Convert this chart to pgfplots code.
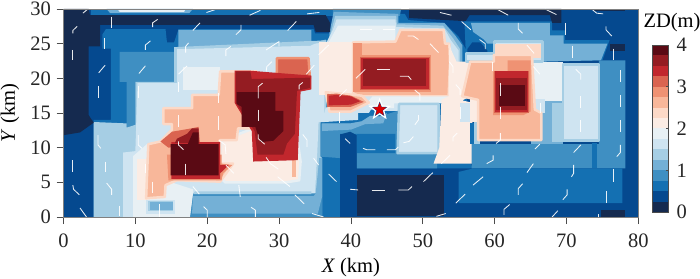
\documentclass[border=0pt]{standalone}
\usepackage{fontspec}
\setmainfont{Liberation Serif}
\usepackage{pgfplots}
\pgfplotsset{compat=1.18}
\definecolor{L0}{HTML}{152A4F}
\definecolor{L1}{HTML}{05498F}
\definecolor{L2}{HTML}{1470B2}
\definecolor{L3}{HTML}{3F8FC2}
\definecolor{L4}{HTML}{74B0D6}
\definecolor{L5}{HTML}{A6CEE4}
\definecolor{L6}{HTML}{CFE4F1}
\definecolor{L7}{HTML}{E8F0F4}
\definecolor{L8}{HTML}{FBECE4}
\definecolor{L9}{HTML}{FCD9C7}
\definecolor{L10}{HTML}{F8B79A}
\definecolor{L11}{HTML}{EF9273}
\definecolor{L12}{HTML}{DA6450}
\definecolor{L13}{HTML}{C1272D}
\definecolor{L14}{HTML}{941C22}
\definecolor{L15}{HTML}{5A0A14}
\pgfdeclareplotmark{fstar}{%
  \pgfpathmoveto{\pgfpointpolar{90}{\pgfplotmarksize}}%
  \pgfpathlineto{\pgfpointpolar{126}{0.42\pgfplotmarksize}}%
  \pgfpathlineto{\pgfpointpolar{162}{\pgfplotmarksize}}%
  \pgfpathlineto{\pgfpointpolar{198}{0.42\pgfplotmarksize}}%
  \pgfpathlineto{\pgfpointpolar{234}{\pgfplotmarksize}}%
  \pgfpathlineto{\pgfpointpolar{270}{0.42\pgfplotmarksize}}%
  \pgfpathlineto{\pgfpointpolar{306}{\pgfplotmarksize}}%
  \pgfpathlineto{\pgfpointpolar{342}{0.42\pgfplotmarksize}}%
  \pgfpathlineto{\pgfpointpolar{18}{\pgfplotmarksize}}%
  \pgfpathlineto{\pgfpointpolar{54}{0.42\pgfplotmarksize}}%
  \pgfpathclose\pgfusepathqfill}
\pgfplotsset{
  rim/.style={draw=#1,line width=2.5pt,line join=round},
  w/.style={white,line width=0.85pt,line join=round,no marks,opacity=0.9},
  every tick label/.append style={font=\fontsize{20.5}{20.5}\selectfont,text=black!85},
}
\begin{document}
\begin{tikzpicture}[x=1pt,y=1pt]
\path[use as bounding box] (0,0) rectangle (700,278);
\begin{axis}[
  at={(63.5pt,61pt)},anchor=south west,scale only axis,width=574.8pt,height=208pt,
  xmin=0,xmax=80,ymin=0,ymax=30,
  xtick={0,10,...,80},ytick={0,5,...,30},
  xtick pos=bottom,ytick pos=left,tick align=outside,major tick length=7pt,
  axis line style={black!50,line width=0.7pt},tick style={black!70,line width=0.7pt},
  /pgf/number format/assume math mode=true,
  xticklabel style={yshift=-6pt},
  yticklabel style={xshift=-2pt},
  xlabel={\fontsize{20.5}{20.5}\selectfont\textit{X} (km)},
  ylabel={\fontsize{20.5}{20.5}\selectfont\textit{Y} (km)},
  xlabel style={at={(axis description cs:0.5,-0.245)},anchor=center},
  ylabel style={at={(axis description cs:-0.093,0.5)},anchor=center},
  axis on top,clip=true,
  every axis plot/.append style={forget plot},
]
% background
\addplot[fill=L1,draw=none] coordinates {(0,0)(80,0)(80,30)(0,30)} --cycle;
% L2 big
\addplot[fill=L2,draw=none] coordinates {(4.2,0)(4.2,14)(6.6,14)(6.6,24.3)(5.4,24.3)(5.4,26.3)(5.9,27.1)(14.2,27.1)(14.4,25.2)(15.4,25.2)(16,27.1)(34.8,27.1)(35,26.5)(37.1,26.5)(38,29.3)(47.5,29.3)(48,28.4)(53,28)(55,26)(56,24.2)(56,22)(56.5,8)(57,7)(40.8,7)(40.8,11.8)(38.5,12)(38.5,0)} --cycle;
% top strip
\addplot[fill=L2,draw=none] coordinates {(3.8,30)(38,30)(38,29)(3.8,29)} --cycle;
\addplot[fill=L4,draw=none] coordinates {(6,30)(18,30)(17.5,29.4)(6.5,29.4)} --cycle;
\addplot[fill=L7,draw=none] coordinates {(7.5,30)(17,30)(16.8,29.6)(7.8,29.6)} --cycle;
\addplot[fill=L3,draw=none] coordinates {(37.5,30)(47,30)(46.8,29)(37.5,29)} --cycle;
% left L3
\addplot[fill=L3,draw=none] coordinates {(7.8,23.8)(15.4,23.8)(15.4,19.5)(10,19.5)(10,13.3)(8.8,12.9)(8.8,19.5)(7.8,19.5)} --cycle;
% L4 upper band
\addplot[fill=L4,draw=none] coordinates {(16,27)(34.5,27)(34.5,25)(36.5,25.6)(36.5,20)(16,20)} --cycle;
% L5 big
\addplot[fill=L5,draw=none] coordinates {(4.2,0)(4.2,13.7)(8.8,13.5)(8.8,12.9)(10,13.3)(10,19.5)(15.4,19.5)(15.4,24.5)(34.6,25.4)(35,25.4)(36.6,25.5)(36.6,14)(35.8,13.8)(35.8,8.7)(36,8.5)(36,0)} --cycle;
% L6 big
\addplot[fill=L6,draw=none] coordinates {(8.3,0)(8.3,9.3)(10,9.5)(10.3,19.3)(15.8,19.3)(15.8,24.2)(34.4,24.7)(35,25)(36.3,25.2)(36.3,15)(41,15)(41,14)(36.3,13.7)(35.5,13.7)(35.3,8.8)(35,3.4)(34,3.2)(18,3.2)(17.6,0)} --cycle;
% bottom L4 / L3
\addplot[fill=L3,draw=none] coordinates {(17.6,0)(36,0)(36,8.5)(35.6,8.5)(35.4,3.4)(18,3.4)} --cycle;
\addplot[fill=L4,draw=none] coordinates {(17.9,0.5)(18,3)(34.8,3)(35.1,3.4)(35.6,8.5)(36,8.5)(36,3)(35.4,0.5)} --cycle;
\addplot[fill=L5,draw=none] coordinates {(18,3.3)(34.5,3.3)(34.5,3.7)(18.3,3.7)} --cycle;
% L7 patches
\addplot[fill=L7,draw=none] coordinates {(16.7,21.7)(21.8,21.7)(21.8,18.3)(16.7,18.3)} --cycle;
\addplot[fill=L7,draw=none] coordinates {(9.7,0)(9.7,8.8)(11.6,10.5)(15,5)(18,4)(18,3.2)(17.6,0)} --cycle;
\addplot[fill=L8,draw=none] coordinates {(10.2,2.4)(10.2,8.4)(11.8,8.4)(11.8,2.4)} --cycle;
\addplot[fill=L6,draw=none] coordinates {(11.5,0.5)(11.5,2.5)(15.5,2.5)(15.5,0.5)} --cycle;
\addplot[fill=L5,draw=none] coordinates {(11.8,0.8)(11.8,2.3)(15.3,2.3)(15.3,0.8)} --cycle;
\addplot[fill=L4,draw=none] coordinates {(12,1)(12,2.1)(15.2,2.1)(15.2,1)} --cycle;
% pale pink centre left
\addplot[fill=L8,rim=L7] coordinates {(22,11)(27,13)(32.3,13)(33,8)(32.8,5.3)(31,5)(22.5,5)(21.5,6)} --cycle;
\addplot[fill=L10,draw=none] coordinates {(31.8,8.5)(32.3,8.5)(32.3,5.8)(31.8,5.8)} --cycle;
% salmon left
\addplot[fill=L10,rim=L9] coordinates {(13.9,15.7)(13.9,13.4)(15.1,13.4)(15.1,12.6)(13.5,10.9)(11.8,10.5)(11.5,2.7)(14.1,2.9)(14.2,4.6)(15.8,5.3)(21.8,5.1)(23.6,7.7)(21.8,7.7)(21.8,11.1)(24.1,11.1)(24.3,12.8)(26.9,12.8)(26.9,21)(21.8,21)(21.6,17.6)(17.9,17.6)(17.9,15.7)} --cycle;
% lower-left dark group
\addplot[fill=L11,draw=none] coordinates {(14.6,5.3)(22,5.3)(22.2,6.3)(23.5,7.5)(22,7.7)(22,9)(14.4,9)} --cycle;
\addplot[fill=L12,draw=none] coordinates {(13.5,10.9)(15.1,12.3)(17.9,12.8)(18.8,13)(19,10.6)(14.6,10)} --cycle;
\addplot[fill=L13,draw=none] coordinates {(15,5.5)(21.8,5.5)(21.8,6.3)(23,7.5)(21.8,7.5)(21.8,10.8)(15,10.8)} --cycle;
\addplot[fill=L14,draw=none] coordinates {(15.5,10.7)(15.8,11.3)(17.2,12)(17.9,12.8)(18.8,12.8)(18.8,10.7)} --cycle;
\addplot[fill=L15,draw=none] coordinates {(14.9,6)(21.6,6)(21.6,10.5)(18.8,10.5)(18.8,12.2)(18,12.2)(17.3,10.5)(14.9,10.5)} --cycle;
% upper dark group
\addplot[fill=L12,rim=L11] coordinates {(29.7,22.9)(34.1,22.9)(34.3,20)(29.5,20)(29.7,21)} --cycle;
\addplot[fill=L13,draw=none] coordinates {(23.8,21.1)(26,21.1)(29.5,20.8)(34.5,20.4)(34.5,18.4)(33,18.1)(32.6,8.2)(26.4,8)(26.2,12.4)(23.8,16.5)} --cycle;
\addplot[fill=L14,draw=none] coordinates {(24,21)(26,21)(26.2,19.9)(34.3,20.1)(34.3,18.6)(32.5,18.2)(32.2,12)(31.1,10.6)(30.6,9)(27,9)(26.6,12.4)(24,16.5)} --cycle;
\addplot[fill=L15,draw=none] coordinates {(24.1,18)(29.5,18)(29.5,15.3)(30.6,15.3)(30.6,12.4)(29.2,11)(27.4,10.8)(26.7,13)(24.8,13)(24.8,15.9)(24.1,16.3)} --cycle;
% centre top gradient
\addplot[fill=L4,draw=none] coordinates {(37.6,29.6)(46.6,29.3)(46.6,28)(53,28)(54.5,26.2)(55.5,24.8)(55.5,22)(46,22)(46,25)(37,25)(37,26.5)} --cycle;
\addplot[fill=L5,draw=none] coordinates {(37.8,29)(46.3,29)(46.4,27.8)(52.8,27.6)(54.2,25.8)(55.2,24.2)(55.2,22)(46,22)(46,25)(37,25)(37.2,26.5)} --cycle;
\addplot[fill=L6,draw=none] coordinates {(38,28.5)(46.2,28.5)(46.3,27.4)(53,27.2)(53.9,25.5)(55,24)(55,22)(46,22)(46,25)(36.5,25)(37.5,27)} --cycle;
\addplot[fill=L7,draw=none] coordinates {(38.2,27.6)(46.2,27.6)(46.2,25)(36.8,25)(37.6,26.5)} --cycle;
% centre pale and salmon
\addplot[fill=L8,draw=none] coordinates {(35.5,25.3)(40.3,25.3)(40.3,17.6)(35.5,17.6)} --cycle;
\addplot[fill=L10,rim=L9] coordinates {(40.3,25.2)(46.2,25.3)(46.9,27)(52.9,27)(53.1,25)(53.7,25)(53.8,22.2)(53.6,17.4)(41.3,17.4)(40.3,17.8)} --cycle;
\addplot[fill=L11,draw=none] coordinates {(40.3,25.1)(41.5,25.1)(41.5,18)(40.3,18)} --cycle;
\addplot[fill=L11,draw=none] coordinates {(41,18)(51.2,18)(51.2,23.3)(41,23.3)} --cycle;
\addplot[fill=L12,draw=none] coordinates {(41.2,18.3)(51,18.3)(51,23.1)(41.2,23.1)} --cycle;
\addplot[fill=L13,draw=none] coordinates {(41.4,18.5)(50.8,18.5)(50.8,22.9)(41.4,22.9)} --cycle;
\addplot[fill=L14,draw=none] coordinates {(41.7,18.9)(50.4,18.9)(50.4,22.8)(41.7,22.8)} --cycle;
% centre lower blues
\addplot[fill=L3,draw=none] coordinates {(35.8,13.5)(39.9,13.5)(41.5,13.8)(42.7,14.6)(44,14.5)(46.5,15.3)(46.5,9.5)(52,9)(52,7)(40.8,7)(40.8,12)(38.5,12)(38.5,8.5)(35.8,8.7)} --cycle;
\addplot[fill=L4,draw=none] coordinates {(36,13.5)(39.9,13.5)(41.5,13.8)(42.7,14.6)(44,14.5)(45,15)(44.5,13.5)(42,13.4)(40,12.6)(36,12.4)} --cycle;
\addplot[fill=L2,draw=none] coordinates {(38.5,12)(40.1,12)(46.2,12)(46.2,9.2)(40.8,9.2)(40.8,12)} --cycle;
\addplot[fill=L1,draw=none] coordinates {(38.5,0)(38.5,11.9)(39.9,12.3)(40.8,11.8)(40.8,0)} --cycle;
\addplot[fill=L0,rim=L1] coordinates {(40.7,0)(40.7,6.3)(53.2,6.3)(53.2,0)} --cycle;
% pale patch under the salmon, round the star
\addplot[fill=L6,draw=none] coordinates {(36.3,15)(42.5,15)(42.8,15.5)(44.7,15.3)(46.5,15.3)(47,16.4)(47,17.4)(41.5,17.4)(41,15.8)(36.5,15.8)} --cycle;
\addplot[fill=L7,draw=none] coordinates {(42.2,16.4)(43,17.4)(53.7,17.4)(53.7,16.4)(46,16.4)(46,15.7)(43,15.7)} --cycle;
\addplot[fill=L6,rim=L5] coordinates {(46.7,16.3)(52.2,16.3)(52.2,9.2)(46.5,9.2)} --cycle;
% red bar left
\addplot[fill=L10,rim=L9] coordinates {(36.5,18)(41.5,17.5)(42.5,16.5)(40,15.2)(37,15.2)} --cycle;
\addplot[fill=L12,draw=none] coordinates {(36.7,17.7)(38,17.8)(40,17.5)(41.8,16.6)(40,15.9)(36.7,15.9)} --cycle;
\addplot[fill=L13,draw=none] coordinates {(36.9,17.5)(38,17.6)(40,17.4)(41.3,16.7)(40,16.2)(36.9,16.1)} --cycle;
% right pale pink column
\addplot[fill=L8,draw=none] coordinates {(53.7,25)(54,24)(54.7,22.4)(56.6,22.4)(56.6,17.4)(55.5,16.8)(56.9,16.5)(56.9,7.7)(51.5,7.7)(52.3,10)(52.6,16.9)(53.6,17.4)} --cycle;
\addplot[fill=L6,draw=none] coordinates {(55.2,16.4)(56.9,16.4)(56.9,13.7)(55.2,13.7)} --cycle;
\addplot[fill=L8,draw=none] coordinates {(56.6,17.4)(57.9,17.4)(57.9,13.7)(56.6,13.7)} --cycle;
\addplot[fill=L5,draw=none] coordinates {(57.1,13.7)(57.9,13.7)(57.9,10.6)(57.1,10.6)} --cycle;
% upper right L2,L4
\addplot[fill=L2,draw=none] coordinates {(55.8,28.2)(68,28.2)(68,26.9)(69.8,26.9)(69.8,25.5)(76,25.5)(75,22.6)(66,22.4)(56,23.5)} --cycle;
\addplot[fill=L4,draw=none] coordinates {(56.7,28)(67.7,28)(67.7,26.2)(69.6,26.2)(69.6,25)(75.7,25)(74.8,22.6)(66,22.4)(66,25)(59,25)(58.5,25.6)(57,26.7)} --cycle;
\addplot[fill=L1,draw=none] coordinates {(56.2,24.2)(56.9,25.2)(58,25.2)(59,24)(59,23.6)(56.2,23.6)} --cycle;
% right L3 col and band
\addplot[fill=L3,draw=none] coordinates {(74.5,22.6)(78.2,22.6)(78.2,7)(56.8,7)(56.8,10.5)(74.5,10.5)} --cycle;
\addplot[fill=L2,draw=none] coordinates {(73.5,7)(73.5,10.7)(74.3,10.7)(74.3,7)} --cycle;
\addplot[fill=L2,draw=none] coordinates {(56.6,10.5)(56.6,13.5)(57.1,13.5)(57.1,10.5)} --cycle;
\addplot[fill=L2,draw=none] coordinates {(55,2)(55,6.5)(57,7)(77.8,7)(77.8,2)} --cycle;
% right blues under salmon
\addplot[fill=L4,draw=none] coordinates {(65,10.5)(69.5,10.5)(69.5,17)(65,17)} --cycle;
\addplot[fill=L5,draw=none] coordinates {(68,10.8)(69.5,10.8)(69.5,16.5)(68,16.5)} --cycle;
\addplot[fill=L7,draw=none] coordinates {(65,16.7)(69.5,16.7)(69.5,22.4)(65,22.4)} --cycle;
\addplot[fill=L6,rim=L5] coordinates {(69.5,22)(74.5,22)(74.5,11)(69.5,11)} --cycle;
\addplot[fill=L6,draw=none] coordinates {(65,17)(67,17)(67,15)(65,15)} --cycle;
% right salmon
\addplot[fill=L6,rim=L5] coordinates {(56,23.6)(60,23.6)(60,25.3)(66.7,25.3)(66.7,22.4)(56,22.4)} --cycle;
\addplot[fill=L9,draw=none] coordinates {(60,25)(66.5,25)(66.5,23)(60,23)} --cycle;
\addplot[fill=L10,rim=L9] coordinates {(56.6,22.4)(59.9,22.4)(59.9,23.4)(65.2,23.4)(65.6,15.5)(66.5,15)(66.5,11.1)(57.7,11.1)(57.7,16.9)(55.5,17.4)} --cycle;
\addplot[fill=L11,draw=none] coordinates {(61.8,22.6)(65,22.6)(65,15.2)(64,14.7)(59.8,14.7)(59.8,21)(61.8,21)} --cycle;
\addplot[fill=L12,draw=none] coordinates {(59.9,21)(64.8,21)(64.8,15)(59.9,15)} --cycle;
\addplot[fill=L13,draw=none] coordinates {(60,21)(64.6,21)(64.6,15.2)(60,15.2)} --cycle;
\addplot[fill=L14,draw=none] coordinates {(60.2,20)(64.5,20)(64.5,15.5)(60.2,15.5)} --cycle;
\addplot[fill=L15,draw=none] coordinates {(60.6,19)(64.3,19)(64.3,16)(60.6,16)} --cycle;
% navy
\addplot[fill=L0,draw=none] coordinates {(0,30)(3.5,30)(3.7,29.1)(36.5,29.1)(37.1,28)(37.1,26.7)(35.1,26.7)(34.8,27.7)(5.1,27.7)(5.1,24.6)(3.5,24.6)(3.5,14.7)(4.2,13.6)(2.3,12.2)(0,11.8)} --cycle;
\addplot[fill=L0,draw=none] coordinates {(48.1,30)(68.5,30)(69.3,30)(69.3,28)(68,28)(67.7,29.1)(56.5,29.1)(56,28.3)(55,28.3)(48.1,28.7)} --cycle;
\addplot[fill=L0,draw=none] coordinates {(73.8,30)(78.2,30)(78.2,29.7)(73.8,29.7)} --cycle;
\addplot[fill=L0,draw=none] coordinates {(76,25)(78.2,25)(78.2,23.9)(76,23.9)} --cycle;
\addplot[fill=L0,draw=none] coordinates {(74.8,0)(78.2,0)(78.2,1)(74.8,1)} --cycle;
% wind lines
\addplot[w] coordinates {(2.7,29.4)(3.4,30)};
\addplot[w] coordinates {(6.7,28.9)(6.7,27.2)};
\addplot[w] coordinates {(12.4,27.4)(12.4,28)(13.1,28.5)};
\addplot[w] coordinates {(18,26.9)(19,28)};
\addplot[w] coordinates {(24,26.3)(24.7,27)(24.7,27.7)};
\addplot[w] coordinates {(31.2,26.9)(32.4,28.2)};
\addplot[w] coordinates {(19.9,29.5)(21.1,29.9)};
\addplot[w] coordinates {(25.9,29.1)(27.4,29.8)};
\addplot[w] coordinates {(33.9,29.3)(35.6,29.5)};
\addplot[w] coordinates {(1.3,26.5)(1.3,26.9)(1.9,27.5)};
\addplot[w] coordinates {(1.3,24.1)(1.3,22.6)};
\addplot[w] coordinates {(5.7,25.8)(5.7,24.2)};
\addplot[w] coordinates {(11.4,24.1)(11.4,24.8)(12.1,25.4)};
\addplot[w] coordinates {(17,23.7)(17,24.6)(17.4,25.1)};
\addplot[w] coordinates {(22.6,23.2)(22.6,24.1)(23.3,24.6)};
\addplot[w] coordinates {(28.2,24.1)(30,25.3)(30,24.6)};
\addplot[w] coordinates {(35.5,23.4)(36.9,24.8)};
\addplot[w] coordinates {(4.9,20.8)(5.8,21.9)};
\addplot[w] coordinates {(10.5,20.7)(11.4,21.8)};
\addplot[w] coordinates {(16,20.6)(17.2,21.8)};
\addplot[w] coordinates {(28.2,21)(28.3,21.7)(29,22.4)};
\addplot[w] coordinates {(33.8,20.6)(34.9,21.9)};
\addplot[w] coordinates {(4.8,18.9)(4.8,17.1)};
\addplot[w] coordinates {(10.4,18.9)(10.4,17.1)};
\addplot[w] coordinates {(16,19.5)(16,18.1)};
\addplot[w] coordinates {(21.6,17.9)(21.6,16.4)};
\addplot[w] coordinates {(27.1,17.1)(27.1,18.8)(27.7,19.3)};
\addplot[w] coordinates {(32.8,18.4)(32.8,19)(33.3,19.4)};
\addplot[w] coordinates {(38.4,17.4)(39.4,18.4)};
\addplot[w] coordinates {(16,14.7)(16,13)};
\addplot[w] coordinates {(21.6,14.5)(21.6,12.5)};
\addplot[w] coordinates {(27.1,15.5)(27.1,13.8)};
\addplot[w] coordinates {(38.4,15.2)(38.4,13.6)};
\addplot[w] coordinates {(4.8,11.8)(4.8,10.4)(5.2,9.9)};
\addplot[w] coordinates {(10.4,11.8)(10.4,10.4)(10.9,9.9)};
\addplot[w] coordinates {(16,10.9)(16,10.4)(16.7,9.7)};
\addplot[w] coordinates {(21.6,11.1)(22.5,10.4)(22.6,9.1)};
\addplot[w] coordinates {(27.1,11.9)(27.1,11.3)(28,10.5)};
\addplot[w] coordinates {(33.3,11.9)(33.9,11.1)(33.9,10.1)};
\addplot[w] coordinates {(39.2,11.3)(39.9,10.6)};
\addplot[w] coordinates {(1.3,8.2)(1.3,6.5)};
\addplot[w] coordinates {(5.8,8)(5.8,6.5)};
\addplot[w] coordinates {(11.4,7.7)(11.4,6.3)};
\addplot[w] coordinates {(17,7.7)(17,6.1)};
\addplot[w] coordinates {(22.6,7.5)(23.7,6.3)};
\addplot[w] coordinates {(28.2,8.6)(28.8,7.7)(29.9,6.9)};
\addplot[w] coordinates {(34.8,8.5)(35.5,7.5)};
\addplot[w] coordinates {(36.9,6.2)(38,5.1)};
\addplot[w] coordinates {(1.3,4.6)(1.4,4)(2.2,3.2)};
\addplot[w] coordinates {(6,4.9)(6.7,4)(6.7,3.2)};
\addplot[w] coordinates {(12.4,5.1)(12.4,3.4)};
\addplot[w] coordinates {(18,4.4)(18.9,3.3)};
\addplot[w] coordinates {(24.4,4.6)(24.6,2.9)};
\addplot[w] coordinates {(29.8,5.8)(31.5,4.4)};
\addplot[w] coordinates {(32.2,3.2)(33.5,1.9)};
\addplot[w] coordinates {(2.3,1.3)(3.2,0)};
\addplot[w] coordinates {(7.8,1.6)(7.8,0.1)};
\addplot[w] coordinates {(13.4,1.9)(13.4,0)};
\addplot[w] coordinates {(19.5,1.5)(20,1)(20,0)};
\addplot[w] coordinates {(26.1,1.4)(26.7,1)(26.7,0)};
\addplot[w] coordinates {(34.6,0.5)(36.2,0)};
\addplot[w] coordinates {(52.4,29.5)(54,29.1)};
\addplot[w] coordinates {(60.3,30)(61.9,29.1)};
\addplot[w] coordinates {(67,30)(68.6,29.2)};
\addplot[w] coordinates {(73.5,30)(74.2,29.4)(75.1,29.3)};
\addplot[w] coordinates {(55.4,28.2)(56.7,27)};
\addplot[w] coordinates {(63.3,28)(63.3,27.1)(63.9,26.5)};
\addplot[w] coordinates {(69.9,28)(69.9,26.2)};
\addplot[w] coordinates {(75.5,27.5)(75.5,27)(76.3,26.1)};
\addplot[w] coordinates {(41.3,27.1)(42.9,27.1)};
\addplot[w] coordinates {(44.5,27.1)(46.2,27.1)};
\addplot[w] coordinates {(47.9,26.1)(48.7,26.1)(49.4,25.6)};
\addplot[w] coordinates {(51,25)(52.2,23.7)};
\addplot[w] coordinates {(57.9,25.6)(58.7,25)(58.7,24.2)};
\addplot[w] coordinates {(64.5,24.8)(65.5,23.6)};
\addplot[w] coordinates {(70.9,24.7)(70.9,22.9)};
\addplot[w] coordinates {(76.5,24.3)(76.5,22.6)};
\addplot[w] coordinates {(40.7,20)(42,21.3)};
\addplot[w] coordinates {(43.6,21.3)(45.5,21.3)};
\addplot[w] coordinates {(46.8,20.3)(48,20.3)(48.4,19.8)};
\addplot[w] coordinates {(53.7,22.4)(54.2,21.7)(54.2,20.8)};
\addplot[w] coordinates {(59.7,22.4)(59.7,21)};
\addplot[w] coordinates {(65.4,21.7)(66.3,20.6)};
\addplot[w] coordinates {(71.3,21.3)(72,20.6)(72,19.8)};
\addplot[w] coordinates {(77.5,21.2)(77.5,19.5)};
\addplot[w] coordinates {(48.9,18.3)(49.6,17.7)(49.6,16.8)};
\addplot[w] coordinates {(54.6,19.1)(55.2,18.4)(55.2,17.6)};
\addplot[w] coordinates {(60.8,19.3)(60.8,17.5)};
\addplot[w] coordinates {(71.9,17.4)(71.9,15.7)};
\addplot[w] coordinates {(77.5,17.6)(77.5,15.8)};
\addplot[w] coordinates {(49.4,14.7)(49.4,14)(48.9,13.3)};
\addplot[w] coordinates {(55.2,15.9)(55.2,14.2)};
\addplot[w] coordinates {(60.8,15.9)(60.8,14.1)};
\addplot[w] coordinates {(66.4,16.5)(66.4,15)};
\addplot[w] coordinates {(71.9,14)(71.9,12.3)};
\addplot[w] coordinates {(77.5,14)(77.5,12.2)};
\addplot[w] coordinates {(41.7,9.9)(42.2,9.7)(43.4,9.7)};
\addplot[w] coordinates {(45,9.7)(46.2,9.7)(46.6,10.1)};
\addplot[w] coordinates {(47.3,10.7)(48.1,10.9)(48.7,11.6)};
\addplot[w] coordinates {(54.2,10.9)(54.2,11.5)(54.8,12.1)};
\addplot[w] coordinates {(60.8,12.1)(60.8,11.1)(60.2,10.6)};
\addplot[w] coordinates {(65.6,9.8)(66.3,10.5)};
\addplot[w] coordinates {(71,9.3)(72,10.4)};
\addplot[w] coordinates {(77,8.7)(77.5,9.3)(77.5,10.4)};
\addplot[w] coordinates {(52.6,7.7)(53.8,8.9)};
\addplot[w] coordinates {(58.9,7.7)(59.8,8.2)(59.8,8.9)};
\addplot[w] coordinates {(64.5,6.4)(65.4,7.7)};
\addplot[w] coordinates {(70.7,5.8)(71,6.3)(71,7.5)};
\addplot[w] coordinates {(76.5,6.9)(76.5,5.1)};
\addplot[w] coordinates {(39.9,4)(41,3.9)};
\addplot[w] coordinates {(42.9,3.9)(44.7,3.9)};
\addplot[w] coordinates {(46.6,3.9)(48,3.9)(48.5,4.4)};
\addplot[w] coordinates {(50.1,5.1)(51.4,6.4)};
\addplot[w] coordinates {(57,4.6)(58.4,5.8)};
\addplot[w] coordinates {(63.3,3.2)(63.3,4.1)(63.9,4.8)};
\addplot[w] coordinates {(69.5,2.5)(70.1,3.2)(70.1,4)};
\addplot[w] coordinates {(75.5,3.7)(75.5,2)};
\addplot[w] coordinates {(54.6,2)(55.9,3.3)};
\addplot[w] coordinates {(61.3,0.3)(61.3,1.1)(62.1,1.8)};
\addplot[w] coordinates {(68,0)(68.8,0.9)};
\addplot[w] coordinates {(74.4,0)(74.4,0.5)};
\addplot[w] coordinates {(51.9,0.1)(53.2,0.5)};
% epicentre star
\addplot[only marks,mark=fstar,mark size=12pt,white] coordinates {(44,15.5)};
\addplot[only marks,mark=fstar,mark size=8pt,L1] coordinates {(44,15.5)};
\addplot[only marks,mark=fstar,mark size=7pt,red!85!black] coordinates {(44,15.5)};
\end{axis}
\begin{axis}[
  at={(652pt,66pt)},anchor=south west,scale only axis,width=16pt,height=167pt,
  xmin=0,xmax=1,ymin=0,ymax=4,
  xtick=\empty,ytick={0,1,2,3,4},ytick pos=right,yticklabel pos=right,
  tick align=inside,major tick length=2pt,
  axis line style={black!70,line width=0.6pt},tick style={black!70,line width=0.6pt},
  /pgf/number format/assume math mode=true,
  title={\fontsize{20.5}{20.5}\selectfont ZD(m)},
  title style={at={(axis description cs:1.25,1.10)},anchor=center},
  axis on top,
  yticklabel style={xshift=5pt},
]
\addplot[fill=L0,draw=none] coordinates {(0,0)(1,0)(1,0.25)(0,0.25)} --cycle;
\addplot[fill=L1,draw=none] coordinates {(0,0.25)(1,0.25)(1,0.5)(0,0.5)} --cycle;
\addplot[fill=L2,draw=none] coordinates {(0,0.5)(1,0.5)(1,0.75)(0,0.75)} --cycle;
\addplot[fill=L3,draw=none] coordinates {(0,0.75)(1,0.75)(1,1)(0,1)} --cycle;
\addplot[fill=L4,draw=none] coordinates {(0,1)(1,1)(1,1.25)(0,1.25)} --cycle;
\addplot[fill=L5,draw=none] coordinates {(0,1.25)(1,1.25)(1,1.5)(0,1.5)} --cycle;
\addplot[fill=L6,draw=none] coordinates {(0,1.5)(1,1.5)(1,1.75)(0,1.75)} --cycle;
\addplot[fill=L7,draw=none] coordinates {(0,1.75)(1,1.75)(1,2)(0,2)} --cycle;
\addplot[fill=L8,draw=none] coordinates {(0,2)(1,2)(1,2.25)(0,2.25)} --cycle;
\addplot[fill=L9,draw=none] coordinates {(0,2.25)(1,2.25)(1,2.5)(0,2.5)} --cycle;
\addplot[fill=L10,draw=none] coordinates {(0,2.5)(1,2.5)(1,2.75)(0,2.75)} --cycle;
\addplot[fill=L11,draw=none] coordinates {(0,2.75)(1,2.75)(1,3)(0,3)} --cycle;
\addplot[fill=L12,draw=none] coordinates {(0,3)(1,3)(1,3.25)(0,3.25)} --cycle;
\addplot[fill=L13,draw=none] coordinates {(0,3.25)(1,3.25)(1,3.5)(0,3.5)} --cycle;
\addplot[fill=L14,draw=none] coordinates {(0,3.5)(1,3.5)(1,3.75)(0,3.75)} --cycle;
\addplot[fill=L15,draw=none] coordinates {(0,3.75)(1,3.75)(1,4)(0,4)} --cycle;
\end{axis}
\end{tikzpicture}
\end{document}
